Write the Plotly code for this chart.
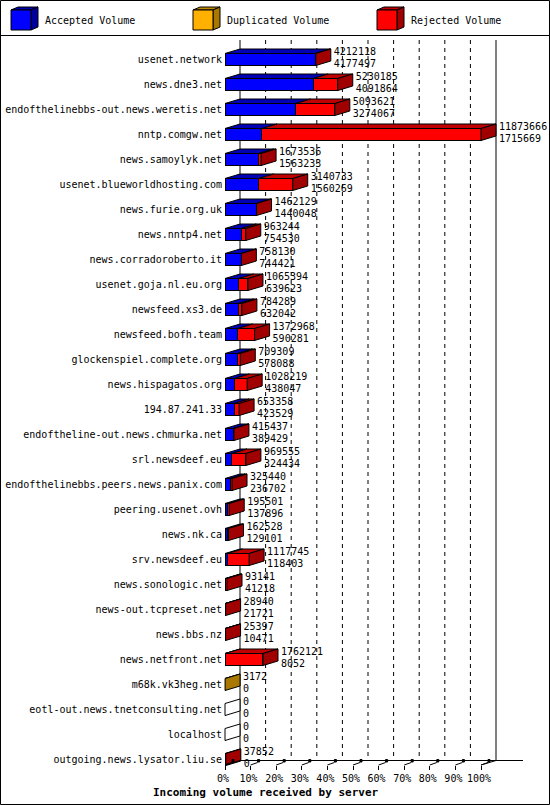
import plotly.graph_objects as go

# --- Data ---
servers = [
    "usenet.network", "news.dne3.net", "endofthelinebbs-out.news.weretis.net",
    "nntp.comgw.net", "news.samoylyk.net", "usenet.blueworldhosting.com",
    "news.furie.org.uk", "news.nntp4.net", "news.corradoroberto.it",
    "usenet.goja.nl.eu.org", "newsfeed.xs3.de", "newsfeed.bofh.team",
    "glockenspiel.complete.org", "news.hispagatos.org", "194.87.241.33",
    "endoftheline-out.news.chmurka.net", "srl.newsdeef.eu",
    "endofthelinebbs.peers.news.panix.com", "peering.usenet.ovh", "news.nk.ca",
    "srv.newsdeef.eu", "news.sonologic.net", "news-out.tcpreset.net",
    "news.bbs.nz", "news.netfront.net", "m68k.vk3heg.net",
    "eotl-out.news.tnetconsulting.net", "localhost", "outgoing.news.lysator.liu.se",
]
total = [
    4212118, 5230185, 5093621, 11873666, 1673536, 3140733, 1462129, 963244,
    758130, 1065394, 784289, 1372968, 709309, 1028219, 653358, 415437, 969555,
    325440, 195501, 162528, 1117745, 93141, 28940, 25397, 1762121, 3172, 0, 0,
    37852,
]
accepted = [
    4177497, 4091864, 3274067, 1715669, 1563233, 1560269, 1440048, 754530,
    744421, 639623, 632042, 590281, 578088, 438047, 423529, 389429, 324434,
    236702, 137896, 129101, 118403, 41218, 21721, 10471, 8052, 0, 0, 0, 0,
]
duplicated = [
    0, 0, 0, 0, 0, 0, 0, 0, 0, 0, 0, 0, 0, 0, 0, 0, 0, 0, 0, 0, 0, 0, 0, 0, 0,
    3172, 0, 0, 0,
]
rejected = [
    34621, 1138321, 1819554, 10157997, 110303, 1580464, 22081, 208714, 13709,
    425771, 152247, 782687, 131221, 590172, 229829, 26008, 645121, 88738,
    57605, 33427, 999342, 51923, 7219, 14926, 1754069, 0, 0, 0, 37852,
]
pct_ticks = [0, 10, 20, 30, 40, 50, 60, 70, 80, 90, 100]

# --- Geometry (pixels) ---
W, H = 550, 805
X0, X100 = 225, 481          # front 0% / 100%
ROW0, PITCH = 59.5, 25       # first row centre, row spacing
DX, DY = 15, 4.5             # 3d depth offset
BAR_H = 12
TOP, FLOOR = 40, 760.5       # back wall top, back floor line

vmax = max(total)
s = vmax / (X100 - X0)       # volume per pixel


def xv(px):
    return (px - X0) * s


def yv(py):
    return (py - ROW0) / PITCH


ddx = DX * s
ddy = DY / PITCH
half = BAR_H / 2 / PITCH
FONT = "DejaVu Sans Mono"

series = [
    ("Accepted Volume", accepted, "#0000ff", "#0000b4", "#00009c"),
    ("Duplicated Volume", duplicated, "#ffb000", "#c08800", "#a87800"),
    ("Rejected Volume", rejected, "#ff0000", "#c00000", "#a00000"),
]

fig = go.Figure()

# front faces
for name, vals, front, top, side in series:
    fig.add_trace(go.Bar(
        y=list(range(len(servers))), x=vals, orientation="h",
        width=BAR_H / PITCH, name=name,
        marker=dict(color=front, line=dict(color="black", width=1)),
        hoverinfo="skip",
    ))

# top and side faces
faces = {}
for i in range(len(servers)):
    yt, yb = i - half, i + half
    left = 0
    last_side = "#ffffff"
    for name, vals, front, top, side in series:
        v = vals[i]
        if v > 0:
            x0, x1 = left, left + v
            faces.setdefault(top, []).append(
                [(x0, yt), (x1, yt), (x1 + ddx, yt - ddy), (x0 + ddx, yt - ddy)])
            left = x1
            last_side = side
    faces.setdefault(last_side, []).append(
        [(left, yt), (left + ddx, yt - ddy), (left + ddx, yb - ddy), (left, yb)])

for color, polys in faces.items():
    xs, ys = [], []
    for p in polys:
        xs += [q[0] for q in p] + [p[0][0], None]
        ys += [q[1] for q in p] + [p[0][1], None]
    fig.add_trace(go.Scatter(
        x=xs, y=ys, mode="lines", fill="toself", fillcolor=color,
        line=dict(color="black", width=1), hoverinfo="skip",
    ))

# value labels
lab_x = [t + ddx + 3 * s for t in total]
fig.add_trace(go.Scatter(
    x=lab_x, y=[i - 7 / PITCH for i in range(len(servers))],
    mode="text", text=[str(t) for t in total], textposition="middle right",
    textfont=dict(family=FONT, size=10, color="black"), hoverinfo="skip",
))
fig.add_trace(go.Scatter(
    x=lab_x, y=[i + 4.5 / PITCH for i in range(len(servers))],
    mode="text", text=[str(a) for a in accepted], textposition="middle right",
    textfont=dict(family=FONT, size=10, color="black"), hoverinfo="skip",
))

# back walls, grid and floor
shapes = []
for k, p in enumerate(pct_ticks):
    xb = vmax * p / 100 + ddx
    solid = p in (0, 100)
    shapes.append(dict(
        type="line", xref="x", yref="y", x0=xb, x1=xb, y0=yv(TOP), y1=yv(FLOOR),
        line=dict(color="black", width=1, dash="solid" if solid else "4px,4px"),
        layer="below",
    ))
    xf = vmax * p / 100
    shapes.append(dict(type="line", xref="x", yref="y", x0=xf, x1=xf + 7 * s,
                       y0=yv(FLOOR + DY), y1=yv(FLOOR + 2), line=dict(color="black", width=1)))
    shapes.append(dict(type="rect", xref="x", yref="y", x0=xf + 7 * s, x1=xf + 9 * s,
                       y0=yv(FLOOR - 1), y1=yv(FLOOR + 1.5), fillcolor="black",
                       line=dict(color="black", width=1)))
shapes.append(dict(type="line", xref="x", yref="y", x0=ddx, x1=xv(523),
                   y0=yv(FLOOR), y1=yv(FLOOR), line=dict(color="black", width=1)))
shapes.append(dict(type="line", xref="x", yref="y", x0=0, x1=ddx,
                   y0=yv(FLOOR + DY), y1=yv(FLOOR), line=dict(color="black", width=1)))
shapes.append(dict(type="line", xref="x", yref="y", x0=vmax, x1=vmax + ddx,
                   y0=yv(FLOOR + DY), y1=yv(FLOOR), line=dict(color="black", width=1)))

# legend box and outer frame
shapes.append(dict(type="rect", xref="paper", yref="paper", x0=0.5 / W, x1=1 - 0.5 / W,
                   y0=0.5 / H, y1=1 - 0.5 / H, line=dict(color="black", width=1)))
shapes.append(dict(type="line", xref="paper", yref="paper", x0=0, x1=1,
                   y0=1 - 35.5 / H, y1=1 - 35.5 / H, line=dict(color="black", width=1)))

annotations = []
legend_x = [11, 193, 377]
for (name, vals, front, top, side), lx in zip(series, legend_x):
    fx0, fx1, fy0, fy1 = lx, lx + 20, 10, 30

    def pp(px, py):
        return f"{px / W} {1 - py / H}"

    shapes.append(dict(type="path", xref="paper", yref="paper",
                       path=f"M {pp(fx0, fy0)} L {pp(fx0 + 7, fy0 - 3)} L {pp(fx1 + 7, fy0 - 3)} L {pp(fx1, fy0)} Z",
                       fillcolor=top, line=dict(color="black", width=1)))
    shapes.append(dict(type="path", xref="paper", yref="paper",
                       path=f"M {pp(fx1, fy0)} L {pp(fx1 + 7, fy0 - 3)} L {pp(fx1 + 7, fy1 - 3)} L {pp(fx1, fy1)} Z",
                       fillcolor=side, line=dict(color="black", width=1)))
    shapes.append(dict(type="rect", xref="paper", yref="paper",
                       x0=fx0 / W, x1=fx1 / W, y0=1 - fy1 / H, y1=1 - fy0 / H,
                       fillcolor=front, line=dict(color="black", width=1)))
    annotations.append(dict(
        xref="paper", yref="paper", x=(lx + 32) / W, y=1 - 20.5 / H,
        xanchor="left", yanchor="middle", showarrow=False, text=name,
        font=dict(family=FONT, size=10, color="black"),
    ))

annotations.append(dict(
    xref="paper", yref="paper", x=266 / W, y=1 - 792 / H,
    xanchor="center", yanchor="middle", showarrow=False,
    text="<b>Incoming volume received by server</b>",
    font=dict(family=FONT, size=11, color="black"),
))

fig.update_layout(
    width=W, height=H, margin=dict(l=0, r=0, t=0, b=0),
    template="none", paper_bgcolor="white", plot_bgcolor="white",
    barmode="stack", showlegend=False,
    shapes=shapes, annotations=annotations,
    xaxis=dict(
        domain=[0, 1], range=[xv(0), xv(W)], anchor="free",
        position=1 - (FLOOR + DY) / H,
        tickvals=[vmax * p / 100 for p in pct_ticks],
        ticktext=[f"{p}%" for p in pct_ticks],
        ticks="outside", ticklen=4, tickcolor="black", tickwidth=1,
        showgrid=False, zeroline=False, showline=False,
        tickfont=dict(family=FONT, size=10, color="black"),
        ticklabelshift=-2, automargin=False,
    ),
    yaxis=dict(
        domain=[0, 1], range=[yv(H), yv(0)], anchor="free", position=X0 / W,
        tickvals=list(range(len(servers))), ticktext=servers,
        ticks="", showgrid=False, zeroline=False, showline=False,
        tickfont=dict(family=FONT, size=10, color="black"),
        ticklabelstandoff=3, automargin=False,
    ),
)

fig.write_html("out.html", config={"displayModeBar": False},
               post_script="document.body.style.margin='0';document.body.style.padding='0';")
